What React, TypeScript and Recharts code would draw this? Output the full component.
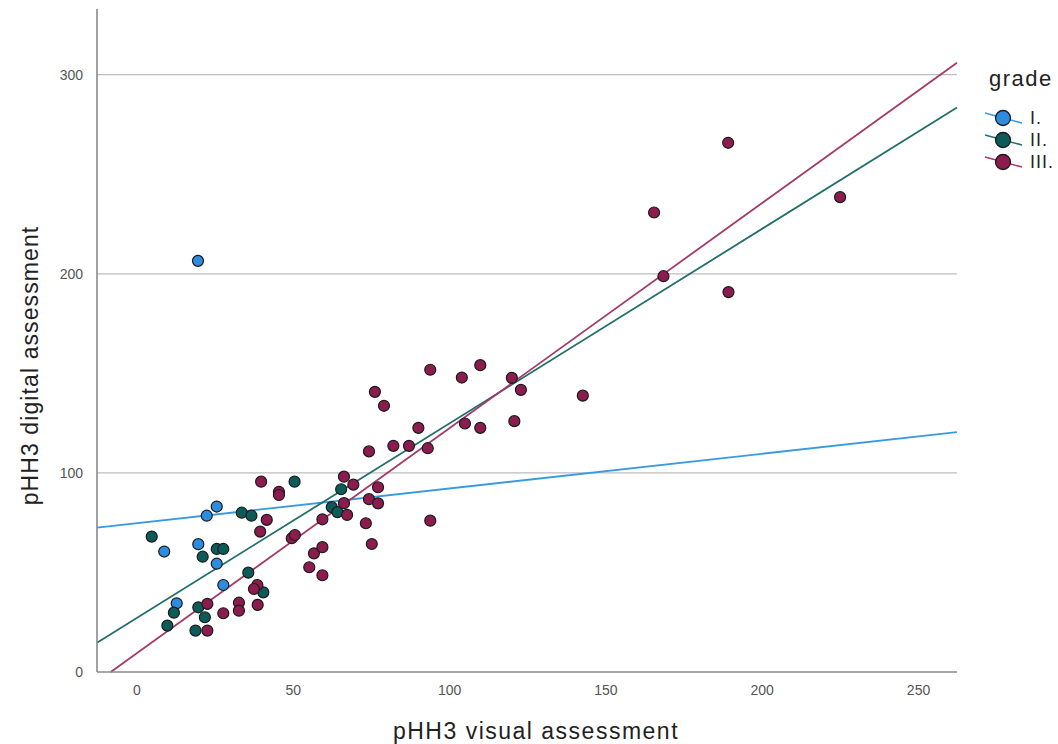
import React from "react";
import {
  ScatterChart,
  Scatter,
  XAxis,
  YAxis,
  CartesianGrid,
  ReferenceLine,
  Legend,
  Label,
} from "recharts";

// visual (x) vs digital (y) pHH3 counts, by grade
const gradeI = [
  { x: 19.5, y: 206.5 },
  { x: 8.7, y: 60.5 },
  { x: 22.3, y: 78.5 },
  { x: 25.5, y: 83.1 },
  { x: 19.6, y: 64.2 },
  { x: 25.5, y: 54.4 },
  { x: 27.6, y: 43.7 },
  { x: 12.7, y: 34.5 },
];

const gradeII = [
  { x: 4.7, y: 68 },
  { x: 33.5, y: 80 },
  { x: 36.6, y: 78.5 },
  { x: 50.4, y: 95.6 },
  { x: 21, y: 57.9 },
  { x: 25.5, y: 61.8 },
  { x: 27.6, y: 61.8 },
  { x: 35.6, y: 49.9 },
  { x: 40.4, y: 40 },
  { x: 11.8, y: 29.8 },
  { x: 9.7, y: 23.3 },
  { x: 19.6, y: 32.5 },
  { x: 21.7, y: 27.5 },
  { x: 18.7, y: 20.8 },
  { x: 65.3, y: 91.8 },
  { x: 62.3, y: 82.8 },
  { x: 64.1, y: 80.3 },
];

const gradeIII = [
  { x: 39.7, y: 95.6 },
  { x: 45.4, y: 90.5 },
  { x: 45.4, y: 88.9 },
  { x: 41.5, y: 76.4 },
  { x: 39.4, y: 70.5 },
  { x: 38.5, y: 43.7 },
  { x: 37.4, y: 41.7 },
  { x: 49.5, y: 67.2 },
  { x: 50.5, y: 68.8 },
  { x: 56.6, y: 59.6 },
  { x: 59.3, y: 62.7 },
  { x: 55.1, y: 52.6 },
  { x: 59.3, y: 48.6 },
  { x: 22.5, y: 34.2 },
  { x: 22.5, y: 20.8 },
  { x: 27.6, y: 29.5 },
  { x: 32.6, y: 34.8 },
  { x: 32.6, y: 30.8 },
  { x: 38.6, y: 33.7 },
  { x: 59.3, y: 76.7 },
  { x: 66.2, y: 98.1 },
  { x: 69.2, y: 94.1 },
  { x: 77.1, y: 92.8 },
  { x: 66.2, y: 84.8 },
  { x: 67.2, y: 78.9 },
  { x: 74.2, y: 86.8 },
  { x: 77.1, y: 84.7 },
  { x: 73.2, y: 74.7 },
  { x: 75.1, y: 64.3 },
  { x: 93.8, y: 76 },
  { x: 74.2, y: 110.8 },
  { x: 82, y: 113.6 },
  { x: 87, y: 113.6 },
  { x: 93, y: 112.4 },
  { x: 90, y: 122.6 },
  { x: 104.9, y: 124.8 },
  { x: 109.8, y: 122.6 },
  { x: 120.7, y: 126 },
  { x: 76.1, y: 140.7 },
  { x: 79, y: 133.7 },
  { x: 93.8, y: 151.8 },
  { x: 103.9, y: 147.9 },
  { x: 109.8, y: 154.1 },
  { x: 119.9, y: 147.7 },
  { x: 122.8, y: 141.7 },
  { x: 142.6, y: 138.8 },
  { x: 165.4, y: 230.8 },
  { x: 168.4, y: 198.8 },
  { x: 189.2, y: 190.8 },
  { x: 189.1, y: 265.8 },
  { x: 224.9, y: 238.5 },
];

// fit line end points
const fitI = [
  { x: -12.8, y: 72.5 },
  { x: 262.3, y: 120.5 },
];
const fitII = [
  { x: -12.8, y: 14.7 },
  { x: 262.3, y: 283.5 },
];
const fitIII = [
  { x: -8.4, y: 0 },
  { x: 262.3, y: 306 },
];

const xTicks = [0, 50, 100, 150, 200, 250];
const yTicks = [0, 100, 200, 300];

const grades = [
  { name: "I.", fill: "#2b8ce0", line: "#3a9ae0", data: gradeI, fit: fitI },
  { name: "II.", fill: "#0d5b59", line: "#22706b", data: gradeII, fit: fitII },
  { name: "III.", fill: "#8c1b4e", line: "#a33a6a", data: gradeIII, fit: fitIII },
];

const FONT = "'Liberation Sans', Arial, sans-serif";

const dot = (fill: string) => (props: any) => (
  <circle
    cx={props.cx}
    cy={props.cy}
    r={5.5}
    fill={fill}
    stroke="#1b1b1b"
    strokeWidth={1.2}
  />
);

function GradeLegend() {
  return (
    <div style={{ fontFamily: FONT, color: "#222" }}>
      <div
        style={{
          fontSize: 22,
          letterSpacing: 1.5,
          height: 30,
          lineHeight: "30px",
          marginBottom: 13,
          marginLeft: 5,
        }}
      >
        grade
      </div>
      {grades.map((g) => (
        <div
          key={g.name}
          style={{ display: "flex", alignItems: "center", height: 22 }}
        >
          <svg width={40} height={22}>
            <line x1={1} y1={6} x2={38} y2={16} stroke={g.line} strokeWidth={1.5} />
            <circle cx={19} cy={11} r={7.5} fill={g.fill} stroke="#1b1b1b" strokeWidth={1.3} />
          </svg>
          <span style={{ fontSize: 18, letterSpacing: 1, marginLeft: 6 }}>{g.name}</span>
        </div>
      ))}
    </div>
  );
}

function YTitle(props: any) {
  const vb = props.viewBox || {};
  const cx = 30;
  const cy = (vb.y ?? 0) + (vb.height ?? 0) / 2 + 25;
  return (
    <text
      x={cx}
      y={cy}
      transform={`rotate(-90 ${cx} ${cy})`}
      textAnchor="middle"
      dominantBaseline="central"
      fontSize={23}
      letterSpacing={1.1}
      fill="#222"
      fontFamily={FONT}
    >
      pHH3 digital assessment
    </text>
  );
}

export default function App() {
  return (
    <div style={{ position: "absolute", left: 0, top: 0 }}>
      <ScatterChart
        width={1058}
        height={744}
        margin={{ top: 9, right: 101, left: 0, bottom: 0 }}
      >
        <CartesianGrid
          vertical={false}
          stroke="#bdbdbd"
          strokeWidth={1.3}
          horizontalValues={[100, 200, 300]}
        />
        <XAxis
          type="number"
          dataKey="x"
          domain={[-12.8, 262.3]}
          ticks={xTicks}
          allowDataOverflow
          height={72}
          tickLine={false}
          axisLine={{ stroke: "#8a8a8a", strokeWidth: 1.6 }}
          tick={{ fill: "#555", fontSize: 14, fontFamily: FONT }}
          tickMargin={7}
        >
          <Label
            value="pHH3 visual assessment"
            position="insideBottom"
            offset={5}
            dx={9}
            style={{ fontSize: 23, letterSpacing: 1.5, fill: "#222", fontFamily: FONT }}
          />
        </XAxis>
        <YAxis
          type="number"
          dataKey="y"
          domain={[0, 333]}
          ticks={yTicks}
          allowDataOverflow
          width={97}
          tickLine={false}
          axisLine={{ stroke: "#8a8a8a", strokeWidth: 1.6 }}
          tick={{ fill: "#555", fontSize: 14, fontFamily: FONT }}
          tickMargin={8}
        >
          <Label content={<YTitle />} />
        </YAxis>
        {grades.map((g) => (
          <Scatter
            key={g.name}
            name={g.name}
            data={g.data}
            fill={g.fill}
            shape={dot(g.fill)}
            isAnimationActive={false}
          />
        ))}
        {grades.map((g) => (
          <ReferenceLine
            key={"fit" + g.name}
            segment={g.fit}
            stroke={g.line}
            strokeWidth={1.8}
            ifOverflow="visible"
          />
        ))}
        <Legend
          layout="horizontal"
          verticalAlign="middle"
          align="center"
          wrapperStyle={{ left: 984, top: 64, width: 74 }}
          content={<GradeLegend />}
        />
      </ScatterChart>
    </div>
  );
}
